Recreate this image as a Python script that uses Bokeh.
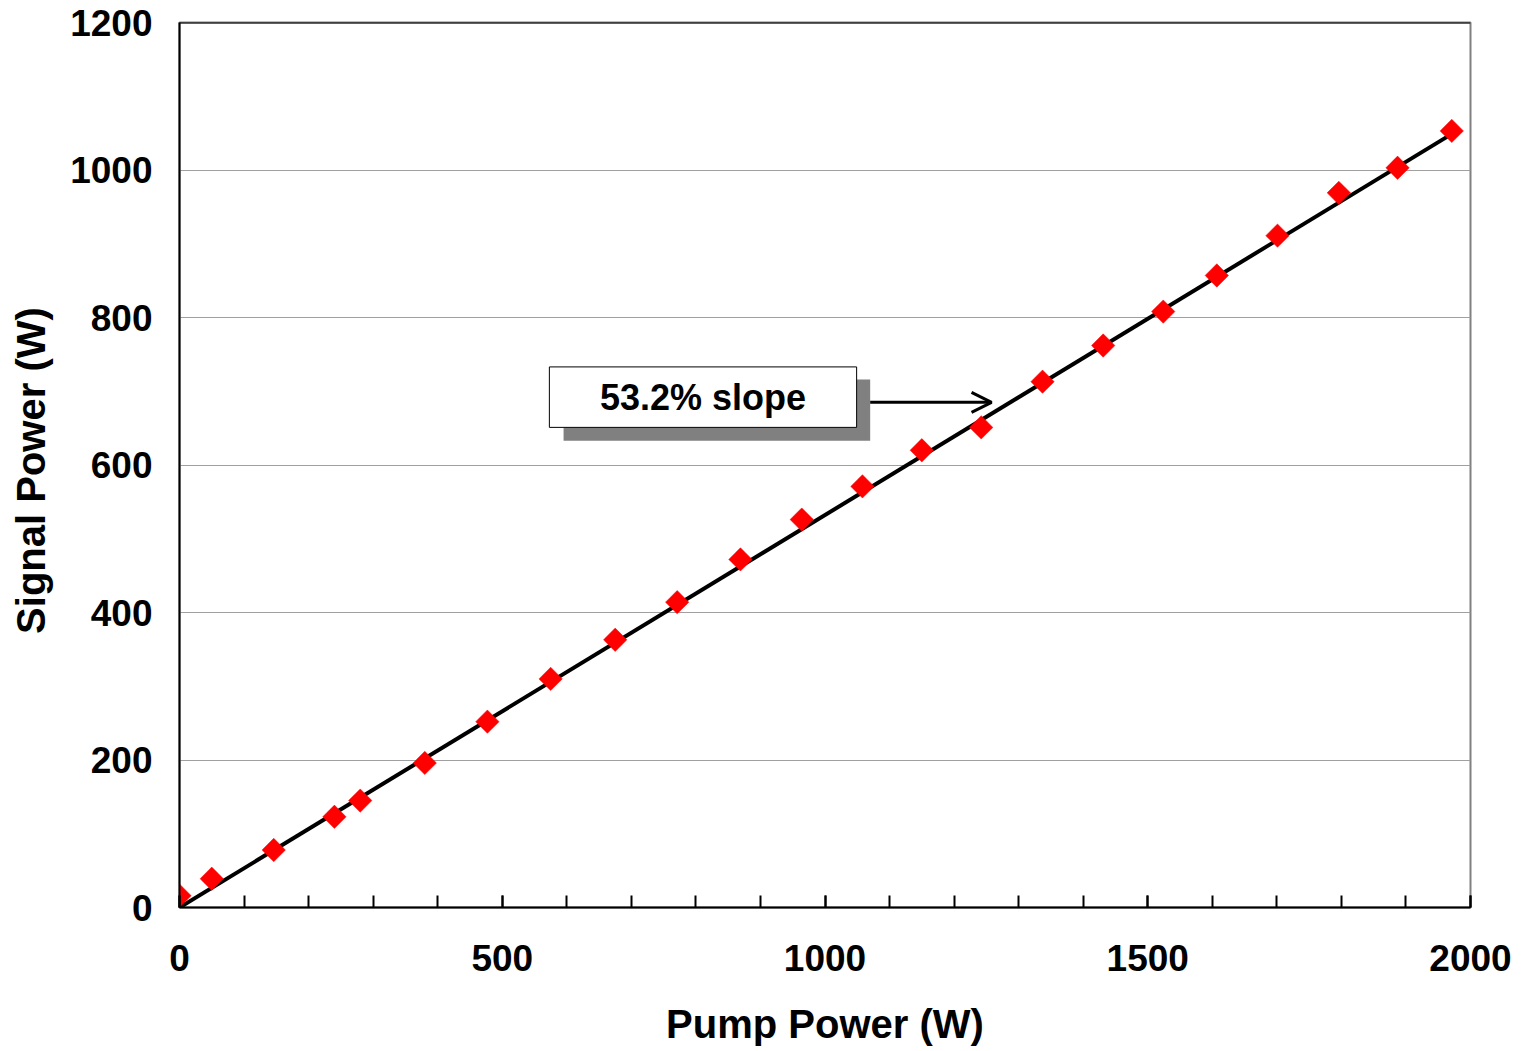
import math
from bokeh.plotting import figure
from bokeh.models import FixedTicker, Arrow, OpenHead, Span, Label
from bokeh.embed import file_html
from bokeh.resources import INLINE

pump_power = [0, 50, 146, 240, 280, 380, 477, 575, 675, 771, 869, 964, 1058,
              1150, 1242, 1337, 1431, 1524, 1607, 1701, 1796, 1887, 1971]
signal_power = [16, 39, 78, 123, 145, 196, 252, 310, 363, 414, 472, 526, 571,
                620, 651, 713, 762, 808, 857, 911, 969, 1003, 1053]
fit_x = [0, 1975]
fit_y = [0, 1051]
x_ticks = [0, 500, 1000, 1500, 2000]
x_minor = list(range(0, 2001, 100))
y_ticks = [0, 200, 400, 600, 800, 1000, 1200]
annotation_text = "53.2% slope"
x_title = "Pump Power (W)"
y_title = "Signal  Power (W)"

FONT = "Liberation Sans"

p = figure(width=1516, height=1048, output_backend="svg", toolbar_location=None,
           x_range=(0, 2000), y_range=(0, 1200),
           min_border_left=179, min_border_right=46, min_border_top=22, min_border_bottom=139)

p.outline_line_color = "#808080"
p.outline_line_width = 2

p.xgrid.visible = False
p.ygrid.grid_line_color = "#a0a0a0"
p.ygrid.grid_line_width = 1

p.xaxis.ticker = FixedTicker(ticks=x_ticks, minor_ticks=x_minor)
p.yaxis.ticker = FixedTicker(ticks=y_ticks)

for ax in (p.xaxis[0], p.yaxis[0]):
    ax.axis_line_color = "black"
    ax.axis_line_width = 2
    ax.major_label_text_font = FONT
    ax.major_label_text_font_style = "bold"
    ax.major_label_text_font_size = "37px"
    ax.major_label_text_color = "black"
    ax.axis_label_text_font = FONT
    ax.axis_label_text_font_style = "bold"
    ax.axis_label_text_font_size = "40px"
    ax.axis_label_text_color = "black"

p.xaxis.major_tick_in = 12
p.xaxis.major_tick_out = 0
p.xaxis.minor_tick_in = 12
p.xaxis.minor_tick_out = 0
p.xaxis.major_tick_line_width = 2
p.xaxis.minor_tick_line_width = 2
p.xaxis.major_tick_line_color = "black"
p.xaxis.minor_tick_line_color = "black"
p.xaxis.major_label_standoff = 37
p.xaxis.axis_label = x_title
p.xaxis.axis_label_standoff = 28

p.yaxis.major_tick_in = 0
p.yaxis.major_tick_out = 0
p.yaxis.minor_tick_line_color = None
p.yaxis.major_label_standoff = 27
p.yaxis.axis_label = y_title
p.yaxis.axis_label_standoff = 14

# top border black
p.add_layout(Span(location=1200, dimension="width", line_color="black", line_width=2))

# fit line
p.line(fit_x, fit_y, line_color="black", line_width=4)

# data markers
p.scatter(pump_power, signal_power, marker="square", size=16.5, angle=math.pi / 4,
          fill_color="#ff0000", line_color="#ff0000", line_width=0.5)

# annotation box with shadow
p.quad(left=[595], right=[1070], bottom=[633], top=[716], fill_color="#808080", line_color=None)
p.quad(left=[573], right=[1049], bottom=[651], top=[733], fill_color="white",
       line_color="black", line_width=1)
p.add_layout(Label(x=811, y=692, text=annotation_text, text_font=FONT, text_font_style="bold",
                   text_font_size="36px", text_color="black", text_align="center",
                   text_baseline="middle"))
p.add_layout(Arrow(x_start=1070, y_start=685, x_end=1258, y_end=685, line_width=3,
                   line_color="black",
                   end=OpenHead(size=20, line_width=3, line_color="black")))

open("out.html", "w").write(file_html(p, INLINE))
